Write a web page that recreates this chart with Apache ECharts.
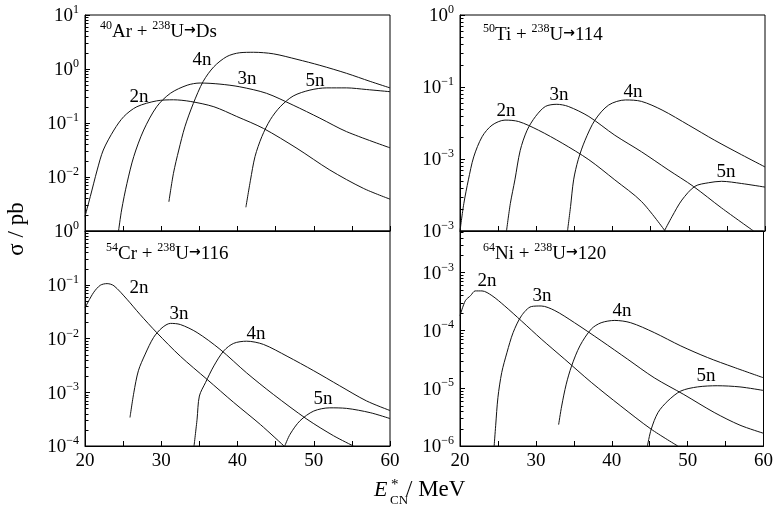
<!DOCTYPE html>
<html><head><meta charset="utf-8">
<script src="https://cdn.jsdelivr.net/npm/echarts@6/dist/echarts.min.js"></script>
<style>html,body{margin:0;padding:0;background:#fff}#c{width:776px;height:511px}</style>
</head><body><div id="c"></div>
<script>
// ---------- data: [E*_CN (MeV), sigma (pb)] ----------
const ar2n = [[20,1.86e-3],[20.7,4.37e-3],[21.6,0.0135],[22.4,0.0316],[23.8,0.0741],[25.1,0.132],[26.8,0.200],[29.4,0.257],[31.6,0.269],[33.8,0.251],[36.9,0.200],[39.9,0.132],[43.4,0.0794],[47.8,0.0339],[52.1,0.0135],[56.5,6.17e-3],[60,3.89e-3]];
const ar3n = [[24.4,1.0e-3],[24.8,2.45e-3],[25.5,7.59e-3],[26.4,0.024],[27.7,0.0741],[29.4,0.200],[31.2,0.355],[33.4,0.501],[35.1,0.550],[37.7,0.525],[40.3,0.468],[43.8,0.355],[47.3,0.214],[50.8,0.123],[54.3,0.0692],[60,0.0347]];
const ar4n = [[31.0,3.47e-3],[31.6,0.0117],[32.3,0.0316],[33.1,0.0851],[34.2,0.229],[35.5,0.589],[36.9,1.10],[38.6,1.70],[40.3,2.00],[42.1,2.04],[44.7,1.91],[47.8,1.51],[50.8,1.17],[54.3,0.832],[57.4,0.589],[60,0.447]];
const ar5n = [[41.1,2.75e-3],[41.7,8.71e-3],[42.3,0.024],[43.2,0.0562],[44.3,0.115],[45.6,0.200],[47.3,0.316],[49.5,0.407],[51.7,0.447],[54.3,0.447],[56.9,0.417],[60,0.380]];

const ti2n = [[20,1.0e-3],[20.5,2.40e-3],[21.1,5.13e-3],[21.8,0.0107],[22.9,0.0204],[24.2,0.0295],[25.9,0.0347],[27.7,0.0331],[30.3,0.0251],[33.4,0.0166],[36.9,9.77e-3],[40.3,5.13e-3],[43.8,2.57e-3],[46.9,1.0e-3]];
const ti3n = [[26.1,1.0e-3],[26.6,2.40e-3],[27.2,5.13e-3],[27.9,0.0132],[28.8,0.0251],[29.9,0.0389],[31.2,0.0537],[32.7,0.0575],[34.2,0.0537],[36.9,0.0389],[40.3,0.0214],[43.8,0.0126],[47.3,7.08e-3],[50.6,4.17e-3],[54.3,2.09e-3],[58.5,1.0e-3]];
const ti4n = [[34.1,1.0e-3],[34.5,2.19e-3],[34.9,5.13e-3],[35.5,9.77e-3],[36.4,0.0182],[37.7,0.0347],[39.5,0.0562],[41.7,0.0661],[43.8,0.0631],[46.5,0.0479],[50.0,0.0295],[53.4,0.0182],[56.9,0.0115],[60,7.76e-3]];
const ti5n = [[46.8,1.0e-3],[47.8,1.58e-3],[49.1,2.69e-3],[50.8,4.17e-3],[52.6,4.68e-3],[54.3,4.90e-3],[56.9,4.57e-3],[60,4.07e-3]];

const cr2n = [[20,0.0372],[21.1,0.0708],[22.0,0.0977],[22.9,0.105],[23.8,0.0955],[25.5,0.0537],[27.2,0.0282],[29.4,0.0129],[32.5,4.68e-3],[36.0,1.74e-3],[39.5,6.46e-4],[43.0,2.51e-4],[46.1,1.0e-4]];
const cr3n = [[25.9,3.39e-4],[26.4,9.77e-4],[27.0,2.51e-3],[27.9,5.13e-3],[29.0,0.0105],[30.1,0.0158],[31.2,0.0191],[32.5,0.0182],[34.7,0.0129],[37.7,6.31e-3],[41.2,2.29e-3],[44.7,9.12e-4],[49.1,3.16e-4],[52.6,1.55e-4],[55.2,1.0e-4]];
const cr4n = [[34.3,1.0e-4],[34.7,3.16e-4],[35.0,8.51e-4],[35.8,1.51e-3],[36.9,3.09e-3],[38.2,5.89e-3],[39.5,8.13e-3],[41.2,8.91e-3],[43.4,7.76e-3],[46.5,4.68e-3],[50.0,2.51e-3],[53.4,1.32e-3],[56.9,6.92e-4],[60,4.57e-4]];
const cr5n = [[46.2,1.0e-4],[46.9,1.66e-4],[48.2,2.95e-4],[50.0,4.47e-4],[52.1,5.13e-4],[54.3,5.01e-4],[57.4,4.17e-4],[60,3.24e-4]];

const ni2n = [[20,1.78e-4],[20.7,3.24e-4],[21.4,3.98e-4],[22.0,4.79e-4],[22.9,4.79e-4],[24.2,3.98e-4],[25.9,2.63e-4],[28.1,1.45e-4],[30.7,7.08e-5],[33.8,3.16e-5],[37.3,1.26e-5],[41.2,4.90e-6],[45.2,1.95e-6],[48.7,1.0e-6]];
const ni3n = [[24.5,1.0e-6],[24.7,2.24e-6],[25.0,6.92e-6],[25.5,1.86e-5],[26.2,4.17e-5],[27.0,9.12e-5],[28.1,1.78e-4],[29.4,2.57e-4],[30.7,2.63e-4],[32.5,2.19e-4],[35.1,1.35e-4],[38.6,6.61e-5],[42.1,3.16e-5],[45.6,1.51e-5],[49.5,7.76e-6],[53.5,3.80e-6],[56.9,2.29e-6],[60,1.66e-6]];
const ni4n = [[33.0,2.34e-6],[33.4,4.90e-6],[34.0,1.17e-5],[34.7,2.40e-5],[35.8,5.37e-5],[37.3,1.05e-4],[38.6,1.35e-4],[40.4,1.48e-4],[42.5,1.35e-4],[45.6,9.12e-5],[49.1,5.37e-5],[52.6,3.39e-5],[56.1,2.29e-5],[60,1.51e-5]];
const ni5n = [[44.7,1.0e-6],[45.2,1.95e-6],[46.1,3.80e-6],[47.4,6.03e-6],[49.1,8.91e-6],[51.3,1.05e-5],[53.9,1.10e-5],[56.9,1.05e-5],[60,9.12e-6]];

const channelNames = ['2n','3n','4n','5n'];
const xTicks = [20,30,40,50,60];
// y tick label exponents as printed in the reference (keyed by decade)
const tlLabels = {'1':'1','0':'0','-1':'−1','-2':'−2'};
const trLabels = {'0':'0','-1':'−1','-2':'−3','-3':'−3'};
const blLabels = {'0':'0','-1':'−1','-2':'−2','-3':'−3','-4':'−4'};
const brLabels = {'-3':'−3','-4':'−4','-5':'−5','-6':'−6'};
const yRanges = [[1e-3,10],[1e-3,1],[1e-4,1],[1e-6,5.2e-3]];

// ---------- chart ----------
const FONT = "'Liberation Serif','Times New Roman',serif";
const panels = [
  {series:[ar2n,ar3n,ar4n,ar5n], labels:tlLabels, bottom:false},
  {series:[ti2n,ti3n,ti4n,ti5n], labels:trLabels, bottom:false},
  {series:[cr2n,cr3n,cr4n,cr5n], labels:blLabels, bottom:true},
  {series:[ni2n,ni3n,ni4n,ni5n], labels:brLabels, bottom:true}
];
const gridBoxes = [
  {left:85, top:15, width:305, height:216},
  {left:460, top:15, width:305, height:216},
  {left:85, top:231, width:305, height:215},
  {left:460, top:231, width:305, height:215}
];

const grid = [], xAxis = [], yAxis = [], series = [];
panels.forEach((p, i) => {
  grid.push(Object.assign({show:true, borderColor:'#000', borderWidth:1, backgroundColor:'transparent', containLabel:false}, gridBoxes[i]));
  xAxis.push({
    type:'value', gridIndex:i, min:20, max:60, interval:5,
    axisLine:{show:true, lineStyle:{color:'#000', width:1}}, splitLine:{show:false},
    axisTick:{show:true, inside:true, length:5, lineStyle:{color:'#000', width:1}},
    axisLabel:{show:p.bottom, margin:6, color:'#000', fontFamily:FONT, fontSize:19,
      formatter:v => xTicks.indexOf(v) >= 0 ? String(v) : ''}
  });
  yAxis.push({
    type:'log', logBase:10, gridIndex:i, min:yRanges[i][0], max:yRanges[i][1],
    axisLine:{show:true, lineStyle:{color:'#000', width:1}}, splitLine:{show:false},
    axisTick:{show:true, inside:true, length:5, lineStyle:{color:'#000', width:1}},
    axisLabel:{show:true, margin:6, color:'#000',
      formatter:v => {
        const l = Math.log10(v), e = Math.round(l);
        if (Math.abs(l - e) > 0.02) return '';
        const s = p.labels[String(e)];
        return s === undefined ? '' : '{b|10}{s|' + s + '}';
      },
      rich:{
        b:{fontFamily:FONT, fontSize:19, color:'#000', lineHeight:22, verticalAlign:'bottom'},
        s:{fontFamily:FONT, fontSize:12, color:'#000', lineHeight:22, verticalAlign:'top'}
      }
    }
  });
  p.series.forEach((d, k) => {
    series.push({
      type:'line', name:channelNames[k], xAxisIndex:i, yAxisIndex:i, data:d,
      showSymbol:false, symbol:'none', smooth:0.3, clip:true,
      lineStyle:{color:'#111', width:1}, silent:true, animation:false
    });
  });
});

function richTitle(a, sym, b, tail) {
  return '{s|' + a + '}{b|' + sym + ' + }{s|' + b + '}{b|U}{a|→}{b|' + tail + '}';
}
const titleRich = {
  b:{fontFamily:FONT, fontSize:19, fill:'#000', lineHeight:22, verticalAlign:'bottom'},
  s:{fontFamily:FONT, fontSize:12, fill:'#000', lineHeight:22, verticalAlign:'top'},
  a:{fontFamily:"'DejaVu Sans',sans-serif", fontSize:14, fontWeight:'bold', fill:'#000', lineHeight:22, verticalAlign:'middle', padding:[0,0,2,0]}
};
function titleEl(x, y, text) {
  return {type:'text', x:x, y:y, silent:true,
    style:{text:text, rich:titleRich, fill:'#000', align:'left', verticalAlign:'middle', font:'19px ' + FONT}};
}
function lab(x, y, t) {
  return {type:'text', x:x, y:y, silent:true,
    style:{text:t, fill:'#000', font:'19px ' + FONT, align:'center', verticalAlign:'middle'}};
}

const graphic = [
  titleEl(100, 31, richTitle('40','Ar','238','Ds')),
  titleEl(483, 34, richTitle('50','Ti','238','114')),
  titleEl(106, 253, richTitle('54','Cr','238','116')),
  titleEl(483, 253, richTitle('64','Ni','238','120')),
  lab(139, 97, channelNames[0]), lab(247, 79, channelNames[1]), lab(202, 60, channelNames[2]), lab(315, 81, channelNames[3]),
  lab(506, 111, channelNames[0]), lab(559, 95, channelNames[1]), lab(633, 92, channelNames[2]), lab(726, 172, channelNames[3]),
  lab(139, 288, channelNames[0]), lab(179, 314, channelNames[1]), lab(256, 334, channelNames[2]), lab(323, 399, channelNames[3]),
  lab(487, 281, channelNames[0]), lab(542, 296, channelNames[1]), lab(622, 311, channelNames[2]), lab(706, 376, channelNames[3]),
  {type:'text', x:17, y:229, rotation:Math.PI/2, silent:true,
    style:{text:'σ / pb', fill:'#000', font:'23px ' + FONT, align:'center', verticalAlign:'middle'}},
  {type:'text', x:374, y:490, silent:true,
    style:{text:'E', fill:'#000', font:'italic 22px ' + FONT, align:'left', verticalAlign:'middle'}},
  {type:'text', x:391, y:485, silent:true,
    style:{text:'*', fill:'#000', font:'15px ' + FONT, align:'left', verticalAlign:'middle'}},
  {type:'text', x:390, y:501, silent:true,
    style:{text:'CN', fill:'#000', font:'13px ' + FONT, align:'left', verticalAlign:'middle'}},
  {type:'text', x:406, y:490, silent:true,
    style:{text:'/ MeV', fill:'#000', font:'23px ' + FONT, align:'left', verticalAlign:'middle'}}
];

const chart = echarts.init(document.getElementById('c'), null, {renderer:'canvas'});
chart.setOption({animation:false, backgroundColor:'#fff', grid, xAxis, yAxis, series});

// log-spaced minor ticks (2..9 x 10^d), positioned through each panel's y scale
const minor = [];
panels.forEach((p, i) => {
  const lo = yRanges[i][0], hi = yRanges[i][1];
  for (let d = Math.floor(Math.log10(lo)); d <= Math.ceil(Math.log10(hi)); d++) {
    for (let k = 2; k <= 9; k++) {
      const v = k * Math.pow(10, d);
      if (v <= lo * 1.001 || v >= hi * 0.999) continue;
      const pt = chart.convertToPixel({gridIndex:i}, [20, v]);
      if (!pt || !isFinite(pt[1])) continue;
      const y = Math.round(pt[1]) + 0.5;
      const x0 = Math.round(pt[0]);
      minor.push({type:'line', silent:true, z:100, shape:{x1:x0, y1:y, x2:x0 + 3.5, y2:y},
        style:{stroke:'#000', lineWidth:1}});
    }
  }
});
chart.setOption({graphic: graphic.concat(minor)});
</script>
</body></html>
